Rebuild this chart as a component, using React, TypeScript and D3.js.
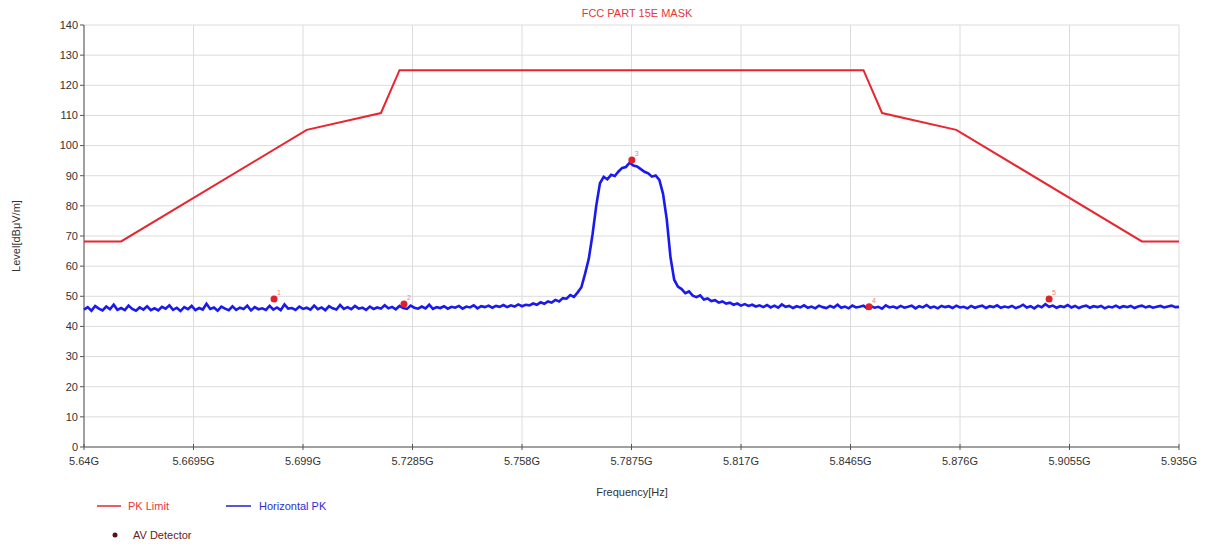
import React from "react";
import * as d3 from "d3";

const W = 1213;
const H = 547;

const X_TICKS = [5.64, 5.6695, 5.699, 5.7285, 5.758, 5.7875, 5.817, 5.8465, 5.876, 5.9055, 5.935];
const X_TICK_LABELS = ["5.64G", "5.6695G", "5.699G", "5.7285G", "5.758G", "5.7875G", "5.817G", "5.8465G", "5.876G", "5.9055G", "5.935G"];
const Y_TICKS = [0, 10, 20, 30, 40, 50, 60, 70, 80, 90, 100, 110, 120, 130, 140];

// PK Limit mask (GHz, dBuV/m)
const LIMIT_FREQ = [5.64, 5.65, 5.7, 5.72, 5.725, 5.85, 5.855, 5.875, 5.925, 5.935];
const LIMIT_LEVEL = [68.2, 68.2, 105.2, 110.8, 125, 125, 110.8, 105.2, 68.2, 68.2];

// Horizontal PK trace: sweep 5.640 GHz .. 5.935 GHz, 1 MHz step
const SWEEP_START = 5.64;
const SWEEP_STEP = 0.001;
const TRACE_LEVEL = [
  45.6, 46.4, 45.2, 46.8, 45.9, 45.3, 46.6, 45.7, 47.2, 45.5,
  46.1, 45.4, 46.9, 45.8, 45.2, 46.3, 45.6, 46.7, 45.4, 46.0,
  45.3, 46.5, 45.9, 47.0, 45.5, 46.2, 45.1, 46.4, 45.7, 46.8,
  45.4, 46.1, 45.6, 47.5, 45.8, 46.3, 45.2, 46.6, 45.9, 45.4,
  46.7, 45.5, 46.2, 45.8, 46.9, 45.3, 46.4, 45.7, 46.0, 45.5,
  46.8, 45.6, 46.3, 45.4, 47.3, 45.9, 46.1, 45.5, 46.6, 45.8,
  46.2, 45.6, 46.9, 45.7, 46.3, 45.4, 46.7, 46.0, 45.6, 47.1,
  45.8, 46.4, 45.7, 46.8, 45.9, 46.2, 45.5, 46.6, 45.8, 46.3,
  45.9, 47.0, 46.0, 46.5, 45.7, 46.8, 46.1, 45.8, 46.9, 46.2,
  45.9, 46.6, 46.0, 47.2, 45.8, 46.4, 46.1, 46.7, 45.9, 46.5,
  46.2, 46.8, 45.9, 46.6, 46.3, 47.0, 46.0, 46.7, 46.4, 46.9,
  46.2, 46.8, 46.5, 47.1, 46.4, 47.0, 46.6, 47.3, 46.7, 47.2,
  47.0, 47.6, 47.2, 48.0, 47.5, 48.3, 47.9, 48.8, 48.3, 49.4,
  49.2, 50.4, 49.8, 51.3, 53.0, 57.5, 62.5, 70.5, 80.0, 87.5,
  89.6, 88.8, 90.3, 89.9, 91.4, 92.6, 92.9, 94.3, 93.4, 93.1,
  92.2, 91.3, 90.8, 89.7, 90.1, 88.6, 84.0, 75.5, 63.0, 55.5,
  53.2, 52.4, 51.0, 51.6, 50.2, 49.7, 50.3, 48.9, 49.3, 48.4,
  48.7, 47.9, 48.3, 47.6, 47.9, 47.2, 47.6, 46.9, 47.4, 46.8,
  47.2, 46.6, 47.0, 46.4, 47.1, 46.3, 46.9, 46.2, 47.3, 46.5,
  46.8, 46.1, 46.7, 46.3, 47.0, 46.2, 46.6, 46.0, 46.9, 46.4,
  46.1, 46.8, 46.3, 47.2, 46.2, 46.6, 46.0, 46.9, 46.3, 46.5,
  46.9, 46.0, 46.7, 46.2, 46.5, 45.9, 47.0, 46.3, 46.6, 46.1,
  46.8, 46.2, 46.5, 46.9, 46.0, 46.7, 46.3, 47.1, 46.2, 46.6,
  46.0, 46.8, 46.4, 46.7, 46.1, 46.9, 46.3, 46.5, 46.0, 46.8,
  46.2, 46.6, 46.9, 46.1, 46.7, 46.4, 47.0, 46.2, 46.6, 46.3,
  46.8, 46.1, 46.5, 47.2, 46.3, 46.7, 46.0, 46.9, 46.4, 47.4,
  46.5, 46.9, 46.2, 46.7, 46.4, 47.1, 46.3, 46.8, 46.1, 46.6,
  46.9, 46.2, 46.7, 46.4, 46.8, 46.0, 46.6, 46.3, 46.9, 46.2,
  46.7, 46.4, 46.8, 46.1, 46.6, 46.9, 46.3, 46.7, 46.2, 46.5,
  46.8, 46.3, 46.6, 46.9, 46.4, 46.5,
];

// AV Detector markers
const MARKER_ID = ["1", "2", "3", "4", "5"];
const MARKER_FREQ = [5.6912, 5.7262, 5.7876, 5.8515, 5.9];
const MARKER_LEVEL = [49.1, 47.4, 95.2, 46.5, 49.1];

const FONT = "Arial, 'Liberation Sans', sans-serif";

export default function App() {
  const left = 84, right = 1179, top = 25, bottom = 447;
  const x = d3.scaleLinear().domain([5.64, 5.935]).range([left, right]);
  const y = d3.scaleLinear().domain([0, 140]).range([bottom, top]);

  const limitData = LIMIT_FREQ.map((f, i) => [f, LIMIT_LEVEL[i]] as [number, number]);
  const traceData = TRACE_LEVEL.map((v, i) => [SWEEP_START + i * SWEEP_STEP, v] as [number, number]);
  const line = d3.line<[number, number]>().x((d) => x(d[0])).y((d) => y(d[1]));

  return (
    <svg width={W} height={H} style={{ position: "absolute", left: 0, top: 0, background: "#fff" }}>
      <rect x={0} y={0} width={W} height={H} fill="#fff" />
      {/* grid */}
      {Y_TICKS.map((t) => (
        <line key={"gy" + t} x1={left} x2={right} y1={y(t)} y2={y(t)} stroke="#dcdcdc" strokeWidth={1} />
      ))}
      {X_TICKS.map((t) => (
        <line key={"gx" + t} x1={x(t)} x2={x(t)} y1={top} y2={bottom} stroke="#dcdcdc" strokeWidth={1} />
      ))}
      {/* axes */}
      <line x1={left} x2={left} y1={top} y2={bottom} stroke="#555" strokeWidth={1} />
      <line x1={left} x2={right} y1={bottom} y2={bottom} stroke="#555" strokeWidth={1} />
      {Y_TICKS.map((t) => (
        <g key={"ty" + t}>
          <line x1={left - 4} x2={left} y1={y(t)} y2={y(t)} stroke="#555" />
          <text x={left - 6} y={y(t)} dy="0.35em" textAnchor="end" fontSize={11} fontFamily={FONT} fill="#333">
            {t}
          </text>
        </g>
      ))}
      {X_TICKS.map((t, i) => (
        <g key={"tx" + t}>
          <line x1={x(t)} x2={x(t)} y1={bottom - 3} y2={bottom + 3} stroke="#555" />
          <text x={x(t)} y={bottom + 18} textAnchor="middle" fontSize={11} fontFamily={FONT} fill="#333">
            {X_TICK_LABELS[i]}
          </text>
        </g>
      ))}
      {/* title & axis labels */}
      <text x={637} y={17} textAnchor="middle" fontSize={11} fontFamily={FONT} fill="#e8373a">
        FCC PART 15E MASK
      </text>
      <text x={632} y={496} textAnchor="middle" fontSize={11} fontFamily={FONT} fill="#333">
        Frequency[Hz]
      </text>
      <text transform={`translate(20,${(top + bottom) / 2}) rotate(-90)`} textAnchor="middle" fontSize={11} fontFamily={FONT} fill="#333">
        Level[dBμV/m]
      </text>
      {/* trace */}
      <path d={line(traceData) || ""} fill="none" stroke="#1a1aee" strokeWidth={2.6} strokeLinejoin="miter" />
      {/* limit */}
      <path d={line(limitData) || ""} fill="none" stroke="#e8262f" strokeWidth={2} />
      {/* markers */}
      {MARKER_FREQ.map((f, i) => (
        <g key={"m" + i}>
          <circle cx={x(f)} cy={y(MARKER_LEVEL[i])} r={3.5} fill="#e0202a" />
          <text x={x(f) + 3} y={y(MARKER_LEVEL[i]) - 4} fontSize={7} fontFamily={FONT} fill="#f08080">
            {MARKER_ID[i]}
          </text>
        </g>
      ))}
      {/* legend */}
      <line x1={97} x2={121} y1={506} y2={506} stroke="#e8262f" strokeWidth={1.5} />
      <text x={128} y={510} fontSize={11} fontFamily={FONT} fill="#e8373a">PK Limit</text>
      <line x1={226} x2={251} y1={506} y2={506} stroke="#2020c0" strokeWidth={1.5} />
      <text x={259} y={510} fontSize={11} fontFamily={FONT} fill="#3030d0">Horizontal PK</text>
      <circle cx={115} cy={535} r={2.5} fill="#5a1010" />
      <text x={133} y={539} fontSize={11} fontFamily={FONT} fill="#6a2020">AV Detector</text>
    </svg>
  );
}
